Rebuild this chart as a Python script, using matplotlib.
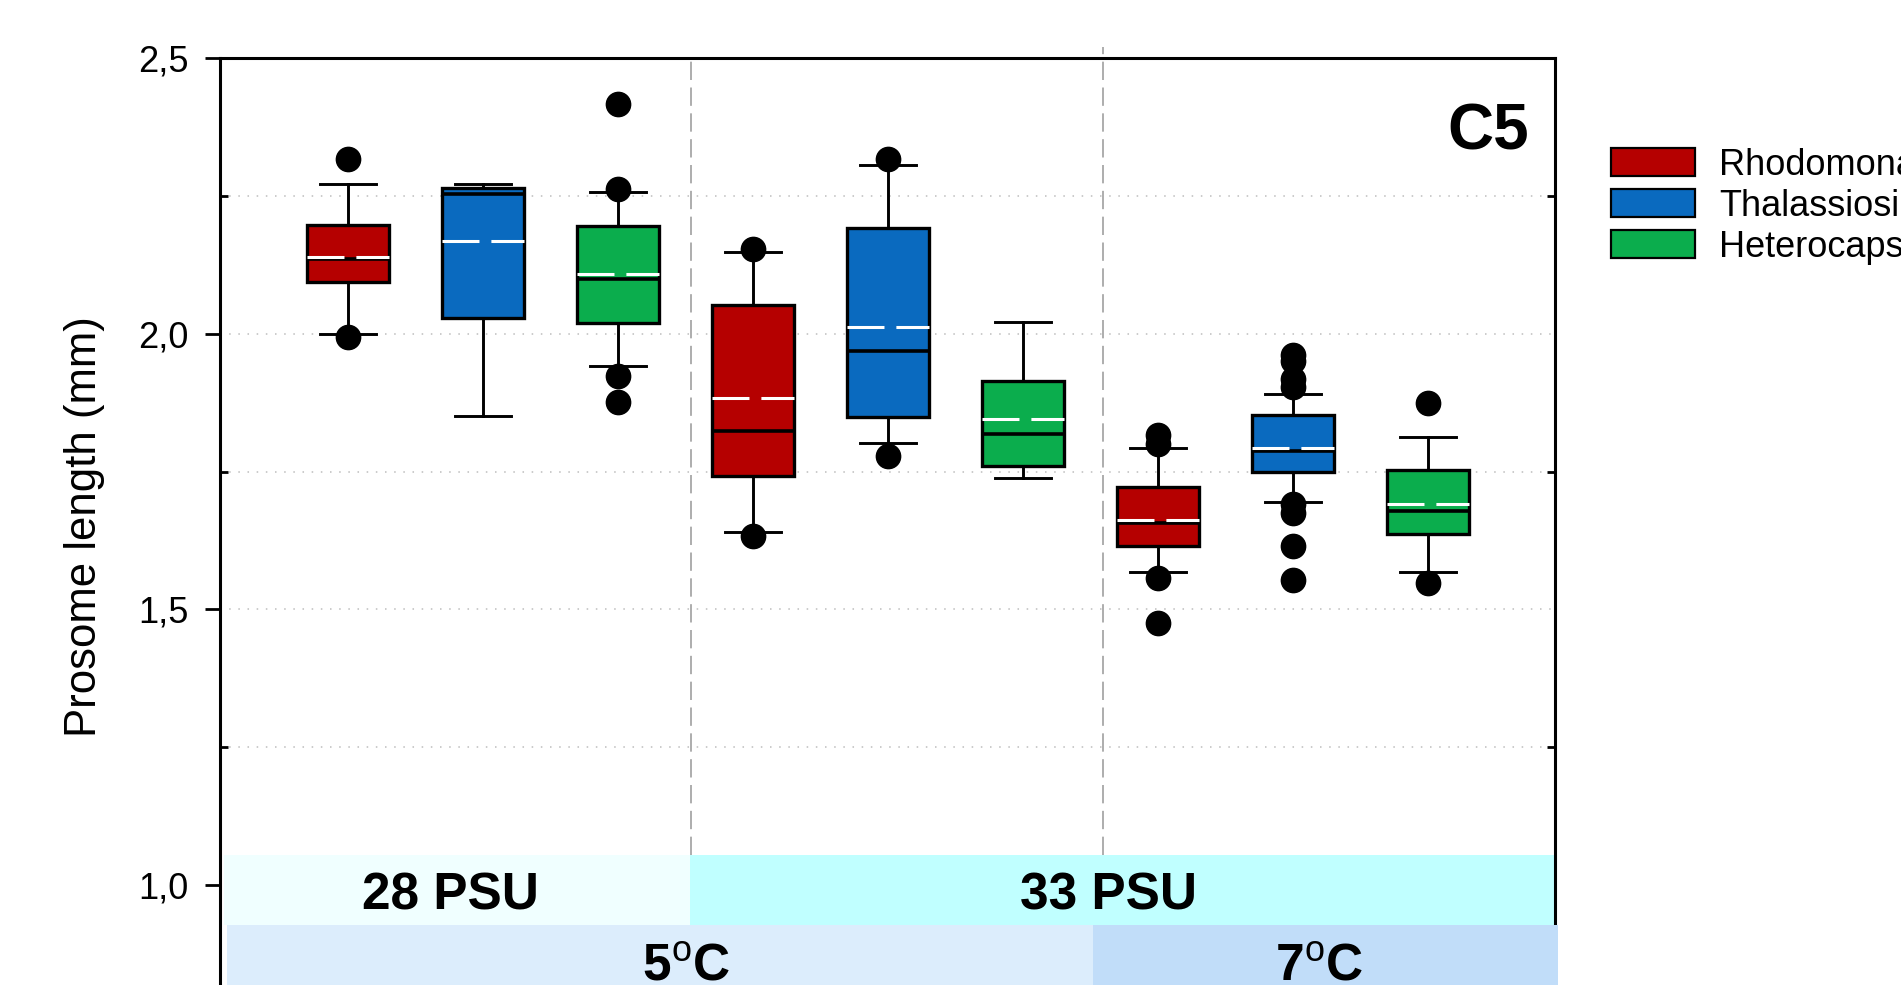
import matplotlib
matplotlib.use('Agg')
import matplotlib.pyplot as plt
from matplotlib.patches import Rectangle
from matplotlib.ticker import MultipleLocator, FuncFormatter

plt.rcParams['font.family'] = ['Liberation Sans', 'DejaVu Sans']
plt.rcParams['mathtext.fontset'] = 'custom'
plt.rcParams['mathtext.rm'] = 'Liberation Sans'
plt.rcParams['mathtext.bf'] = 'Liberation Sans:bold'

# ---------------- data ----------------
species = ['Rhodomonas', 'Thalassiosira', 'Heterocapsa']
colors = ['#B50000', '#0A6ABF', '#0BAD4D']
positions = [1, 2, 3, 4, 5, 6, 7, 8, 9]
medians = [2.136, 2.254, 2.099, 1.824, 1.969, 1.818, 1.657, 1.788, 1.679]
means = [2.139, 2.169, 2.108, 1.883, 2.012, 1.845, 1.662, 1.793, 1.692]
q1 = [2.094, 2.029, 2.020, 1.742, 1.849, 1.760, 1.614, 1.749, 1.636]
q3 = [2.197, 2.265, 2.196, 2.053, 2.192, 1.915, 1.722, 1.852, 1.753]
whislo = [1.999, 1.851, 1.942, 1.641, 1.801, 1.738, 1.567, 1.695, 1.567]
whishi = [2.272, 2.271, 2.257, 2.148, 2.306, 2.021, 1.792, 1.890, 1.812]
fliers = [[2.317, 1.995], [], [2.417, 2.262, 1.923, 1.877],
          [2.153, 1.633], [2.317, 1.779], [],
          [1.816, 1.800, 1.557, 1.476],
          [1.962, 1.950, 1.918, 1.903, 1.692, 1.674, 1.614, 1.554],
          [1.874, 1.547]]

salinity_labels = ['28 PSU', '33 PSU']
temperature_labels = ['5$^{\\mathrm{o}}$C', '7$^{\\mathrm{o}}$C']
panel_label = 'C5'
ylabel = 'Prosome length (mm)'

# ---------------- layout ----------------
W, H = 1901, 985
fig = plt.figure(figsize=(W / 100, H / 100), dpi=100)
ax_l, ax_r, ax_t, ax_b = 220, 1555, 58.3, 995
ax = fig.add_axes([ax_l / W, 1 - ax_b / H, (ax_r - ax_l) / W, (ax_b - ax_t) / H])
ax.set_xlim(0.052, 9.941)
ax.set_ylim(0.8, 2.5)

stats = []
for i in range(len(positions)):
    stats.append(dict(med=medians[i], q1=q1[i], q3=q3[i], whislo=whislo[i],
                      whishi=whishi[i], mean=means[i], fliers=fliers[i]))

bp = ax.bxp(stats, positions=positions, widths=0.607, capwidths=0.41,
            patch_artist=True, showmeans=True, meanline=True,
            boxprops=dict(edgecolor='black', linewidth=2.4),
            whiskerprops=dict(color='black', linewidth=2.1),
            capprops=dict(color='black', linewidth=2.1),
            medianprops=dict(color='black', linewidth=2.6),
            meanprops=dict(color='white', linewidth=2.2, linestyle=(0, (12.1, 3.9))),
            flierprops=dict(marker='o', markerfacecolor='black',
                            markeredgecolor='black', markersize=17.5),
            manage_ticks=False)
for i, b in enumerate(bp['boxes']):
    b.set_facecolor(colors[i % 3])
    b.set_zorder(3)
for m in bp['medians']:
    m.set_zorder(4)
for m in bp['means']:
    m.set_zorder(5)
for f in bp['fliers']:
    f.set_zorder(6)

# dividers between groups
dividers = [3.54, 6.59]
ax.plot([dividers[0]] * 2, [1.054, 2.5], color='#A0A0A0', lw=1.2,
        linestyle=(0, (11, 4.5)), zorder=1.5)
ax.plot([dividers[1]] * 2, [1.054, 2.521], color='#A0A0A0', lw=1.2,
        linestyle=(0, (11, 4.5)), zorder=1.5, clip_on=False)

# bands
psu_spans = [(0.081, 3.533), (3.533, 9.948)]
psu_colors = ['#F0FFFF', '#C0FFFF']
tmp_spans = [(0.104, 6.519), (6.519, 9.963)]
tmp_colors = ['#DCEDFC', '#C1DDF9']
for (x0, x1), c in zip(psu_spans, psu_colors):
    ax.add_patch(Rectangle((x0, 0.927), x1 - x0, 0.127, facecolor=c,
                           edgecolor='none', zorder=2, clip_on=False))
for (x0, x1), c in zip(tmp_spans, tmp_colors):
    ax.add_patch(Rectangle((x0, 0.70), x1 - x0, 0.227, facecolor=c,
                           edgecolor='none', zorder=3, clip_on=False))
psu_text_x = [1.756, 6.63]
tmp_text_x = [3.507, 8.19]
for x, t in zip(psu_text_x, salinity_labels):
    ax.text(x, 0.956, t, ha='center', va='baseline', fontsize=37,
            fontweight='bold', zorder=7)
for x, t in zip(tmp_text_x, temperature_labels):
    ax.text(x, 0.8255, t, ha='center', va='baseline', fontsize=37,
            fontweight='bold', zorder=7, clip_on=False)

ax.text(9.747, 2.334, panel_label, ha='right', va='baseline', fontsize=46,
        fontweight='bold', zorder=7)

# axes styling
for s in ['top', 'left', 'right']:
    ax.spines[s].set_linewidth(2.2)
ax.spines['bottom'].set_visible(False)
ax.set_xticks([])
ax.yaxis.set_major_locator(MultipleLocator(0.5))
ax.yaxis.set_minor_locator(MultipleLocator(0.25))
ax.yaxis.set_major_formatter(FuncFormatter(lambda v, p: f'{v:.1f}'.replace('.', ',')))
ax.tick_params(axis='y', which='major', direction='out', length=10.8, width=2,
               left=True, right=False, labelsize=26, pad=12)
ax.tick_params(axis='y', which='minor', direction='in', length=6, width=2,
               left=True, right=True)
ax.set_axisbelow(True)
ax.grid(axis='y', which='both', color='#BDBDBD', linestyle=(0, (1, 5)), lw=1.1)

ax.set_ylabel(ylabel, fontsize=31.5)
ax.yaxis.set_label_coords((105 - ax_l) / (ax_r - ax_l), 0.5)

# legend (drawn in figure pixel layout)
leg_x, leg_w, leg_h = 1611, 84, 28
leg_tops = [148, 189, 230]
for c, name, top in zip(colors, species, leg_tops):
    fig.add_artist(Rectangle((leg_x / W, 1 - (top + leg_h) / H), leg_w / W, leg_h / H,
                             transform=fig.transFigure, facecolor=c,
                             edgecolor='black', linewidth=1.6))
    fig.text(1719 / W, 1 - (top + 27) / H, name, ha='left', va='baseline',
             fontsize=26)

fig.savefig('out.png', dpi=100)
